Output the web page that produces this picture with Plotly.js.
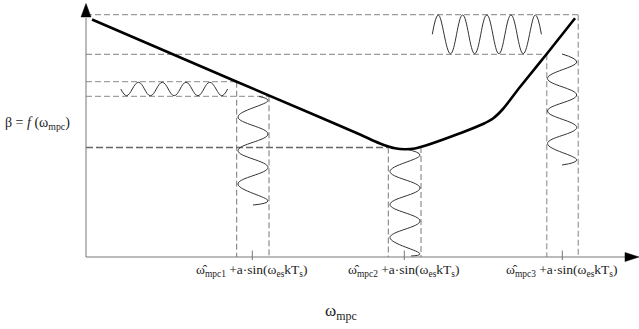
<!DOCTYPE html>
<html><head><meta charset="utf-8">
<script src="https://cdn.plot.ly/plotly-3.0.1.min.js"></script>
<style>html,body{margin:0;padding:0;background:#fff}#chart{width:639px;height:329px}</style>
</head><body><div id="chart"></div>
<script>
// Units: ω_mpc along x, β along y (origin at the axes' intersection)
const curveX = [6, 150.7, 234, 274, 294, 309, 319, 329, 339, 374, 397, 407, 416, 434, 460.7, 489];
const curveY = [237.5, 175.3, 139.7, 122.5, 113.5, 108.7, 107.7, 108.5, 111.2, 123.7, 133, 138.5, 147, 170, 203, 238.7];

// perturbation waves: read extremes of each wave
const wave1X = [34.8, 40.7, 52.5, 64.4, 76.3, 88.2, 100, 111.9, 123.8, 135.7, 141.6];
const wave1Y = [168, 161.3, 174.7, 161.3, 174.7, 161.3, 174.7, 161.3, 174.7, 161.3, 168];
const wave2X = [173, 182, 152, 182, 152, 182, 152, 182, 167];
const wave2Y = [160.5, 156.6, 140, 123, 106.4, 89.6, 73, 56, 52];
const wave3X = [319, 334, 304, 334, 304, 334, 304, 334, 325];
const wave3Y = [108, 102, 85.5, 69, 52.5, 36, 19.5, 3, 1];
const wave4X = [476, 490.7, 461.5, 490.7, 461.5, 490.7, 461.5, 490.7, 476];
const wave4Y = [203, 195, 178.5, 162, 146, 129.5, 113.5, 97, 92];
const wave5X = [346.3, 352.3, 364.5, 376.6, 388.7, 400.8, 412.9, 425, 437.2, 449.3, 455.4];
const wave5Y = [222.7, 242, 203.3, 242, 203.3, 242, 203.3, 242, 203.3, 242, 222.7];

// guide levels
const levelsY = [242.3, 202.7, 175.3, 160.7, 109.5];
const levelsEnd = [492.3, 460.7, 150.7, 183, 302.3];
const guidesX = [150.7, 183, 302.3, 335, 460.7, 492.3];
const guidesTop = [175.3, 160.7, 109.5, 110, 202.7, 242.3];

// operating points on ω axis
const tickPos = [166.3, 318.3, 476.3];
const tickLabels = [
  'ω\u0302<sub>mpc1</sub> +a·sin(ω<sub>es</sub>kT<sub>s</sub>)',
  'ω\u0302<sub>mpc2</sub> +a·sin(ω<sub>es</sub>kT<sub>s</sub>)',
  'ω\u0302<sub>mpc3</sub> +a·sin(ω<sub>es</sub>kT<sub>s</sub>)'
];
const yLabel = 'β = <i>f</i> (ω<sub>mpc</sub>)';
const xLabel = 'ω<sub>mpc</sub>';

const xMin = -86, xMax = 553, yMin = -72, yMax = 257;
const traces = [];

function segs(xs1, ys1, xs2, ys2) {
  const X = [], Y = [];
  for (let i = 0; i < xs1.length; i++) { X.push(xs1[i], xs2[i], null); Y.push(ys1[i], ys2[i], null); }
  return {X, Y};
}
const hUp = segs([0,0],[levelsY[0],levelsY[1]],[levelsEnd[0],levelsEnd[1]],[levelsY[0],levelsY[1]]);
traces.push({x:hUp.X, y:hUp.Y, mode:'lines', line:{color:'#9a9a9a', width:1.2, dash:'6px,3px'}, hoverinfo:'skip'});
const hMid = segs([0,0],[levelsY[2],levelsY[3]],[levelsEnd[2],levelsEnd[3]],[levelsY[2],levelsY[3]]);
traces.push({x:hMid.X, y:hMid.Y, mode:'lines', line:{color:'#8a8a8a', width:1, dash:'6px,3px'}, hoverinfo:'skip'});
const hLow = segs([0],[levelsY[4]],[levelsEnd[4]],[levelsY[4]]);
traces.push({x:hLow.X, y:hLow.Y, mode:'lines', line:{color:'#666', width:1.5, dash:'7px,3px'}, hoverinfo:'skip'});
const vA = segs(guidesX.slice(0,4), guidesTop.slice(0,4), guidesX.slice(0,4), [0,0,0,0]);
traces.push({x:vA.X, y:vA.Y, mode:'lines', line:{color:'#777', width:1, dash:'6px,3px'}, hoverinfo:'skip'});
const vB = segs(guidesX.slice(4), guidesTop.slice(4), guidesX.slice(4), [0,0]);
traces.push({x:vB.X, y:vB.Y, mode:'lines', line:{color:'#aaa', width:1.5, dash:'6px,3px'}, hoverinfo:'skip'});

[[wave1X,wave1Y],[wave2X,wave2Y],[wave3X,wave3Y],[wave4X,wave4Y],[wave5X,wave5Y]].forEach(w => {
  traces.push({x:w[0], y:w[1], mode:'lines', line:{color:'#333', width:1, shape:'spline', smoothing:1.15}, hoverinfo:'skip'});
});

traces.push({x:curveX, y:curveY, mode:'lines', line:{color:'#000', width:2.6, shape:'spline', smoothing:1}, hoverinfo:'skip'});

const axisColor = '#777';
traces.push({x:[0,0,null,0,xMax-14], y:[yMax-18,0,null,0,0], mode:'lines', line:{color:axisColor, width:1}, hoverinfo:'skip'});
const tk = segs(tickPos, tickPos.map(()=>-3), tickPos, tickPos.map(()=>6.5));
traces.push({x:tk.X, y:tk.Y, mode:'lines', line:{color:axisColor, width:1}, hoverinfo:'skip'});
traces.push({x:[-5,5,0,-5], y:[yMax-17,yMax-17,yMax-3.5,yMax-17], mode:'lines', fill:'toself', fillcolor:'#000', line:{color:'#000', width:0.5}, hoverinfo:'skip'});
traces.push({x:[xMax-14,xMax-14,xMax,xMax-14], y:[4.5,-4.5,0,4.5], mode:'lines', fill:'toself', fillcolor:'#000', line:{color:'#000', width:0.5}, hoverinfo:'skip'});

const font = {family:'Liberation Serif, serif', color:'#222', size:13.5};
const annotations = tickPos.map((p,i) => ({x:p, y:-13.5, xref:'x', yref:'y', text:tickLabels[i], showarrow:false, xanchor:'center', yanchor:'middle', font:font}));
annotations.push({x:-83, y:134, xref:'x', yref:'y', text:yLabel, showarrow:false, xanchor:'left', yanchor:'middle', font:Object.assign({}, font, {size:14})});
annotations.push({x:255, y:-55, xref:'x', yref:'y', text:xLabel, showarrow:false, xanchor:'center', yanchor:'middle', font:Object.assign({}, font, {size:17})});

const layout = {
  width:639, height:329, margin:{l:0,r:0,t:0,b:0}, showlegend:false,
  paper_bgcolor:'#fff', plot_bgcolor:'#fff', font:font,
  xaxis:{range:[xMin,xMax], visible:false, fixedrange:true},
  yaxis:{range:[yMin,yMax], visible:false, fixedrange:true},
  annotations:annotations
};
Plotly.newPlot('chart', traces, layout, {staticPlot:true, displayModeBar:false});
</script></body></html>
